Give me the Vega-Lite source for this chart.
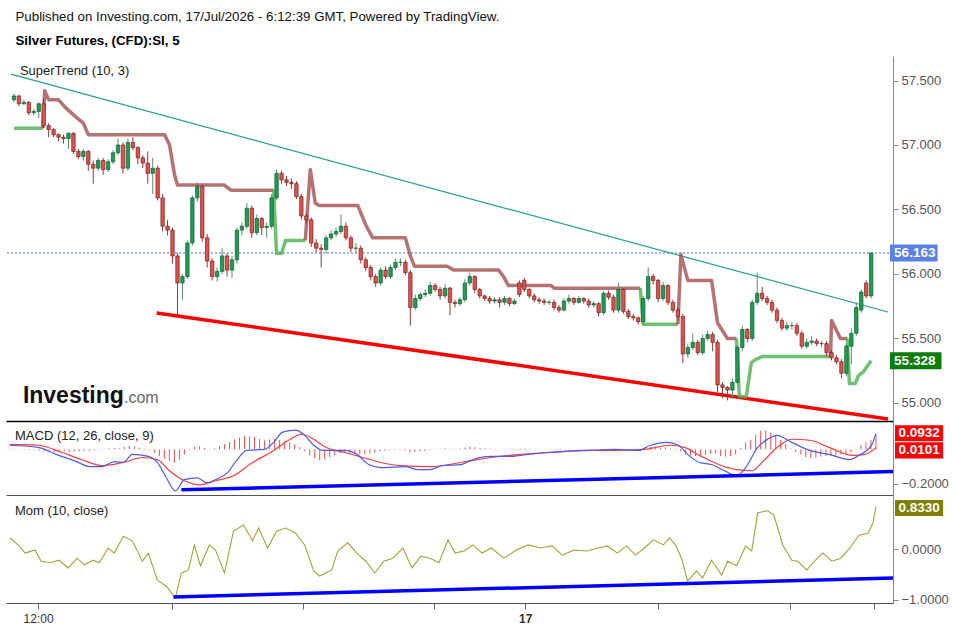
{
  "$schema": "https://vega.github.io/schema/vega-lite/v6.json",
  "padding": {"left": 5, "top": 10, "right": 0, "bottom": 0},
  "background": "white",
  "title": {
    "text": "Published on Investing.com, 17/Jul/2026 - 6:12:39 GMT, Powered by TradingView.",
    "subtitle": "Silver Futures, (CFD):SI, 5",
    "anchor": "start", "dx": 10, "fontSize": 13.3, "fontWeight": "normal", "color": "#111",
    "subtitleFontSize": 13.3, "subtitleFontWeight": "bold", "subtitleColor": "#000",
    "subtitlePadding": 10, "offset": 9
  },
  "config": {
    "view": {"stroke": null},
    "font": "Liberation Sans",
    "title": {"font": "Liberation Sans", "subtitleFont": "Liberation Sans"},
    "axis": {"labelFont": "Liberation Sans", "grid": false}
  },
  "datasets": {
    "candles": [
      {"i":0,"o":57.35,"h":57.40,"l":57.33,"c":57.38},{"i":1,"o":57.38,"h":57.39,"l":57.30,"c":57.32},
      {"i":2,"o":57.32,"h":57.35,"l":57.31,"c":57.33},{"i":3,"o":57.33,"h":57.34,"l":57.23,"c":57.25},
      {"i":4,"o":57.25,"h":57.28,"l":57.23,"c":57.26},{"i":5,"o":57.26,"h":57.33,"l":57.21,"c":57.32},
      {"i":6,"o":57.32,"h":57.36,"l":57.13,"c":57.15},{"i":7,"o":57.15,"h":57.17,"l":57.06,"c":57.12},
      {"i":8,"o":57.12,"h":57.13,"l":57.06,"c":57.08},{"i":9,"o":57.08,"h":57.09,"l":57.03,"c":57.06},
      {"i":10,"o":57.06,"h":57.08,"l":57.01,"c":57.05},{"i":11,"o":57.05,"h":57.10,"l":56.97,"c":57.09},
      {"i":12,"o":57.09,"h":57.10,"l":56.93,"c":56.95},{"i":13,"o":56.95,"h":56.97,"l":56.89,"c":56.91},
      {"i":14,"o":56.91,"h":56.97,"l":56.88,"c":56.95},{"i":15,"o":56.95,"h":56.96,"l":56.80,"c":56.85},
      {"i":16,"o":56.85,"h":56.88,"l":56.70,"c":56.82},{"i":17,"o":56.82,"h":56.90,"l":56.80,"c":56.88},
      {"i":18,"o":56.88,"h":56.90,"l":56.77,"c":56.81},{"i":19,"o":56.81,"h":56.89,"l":56.79,"c":56.87},
      {"i":20,"o":56.87,"h":56.96,"l":56.85,"c":56.94},{"i":21,"o":56.94,"h":57.05,"l":56.92,"c":57.00},
      {"i":22,"o":57.00,"h":57.02,"l":56.78,"c":56.82},{"i":23,"o":56.82,"h":57.05,"l":56.80,"c":57.02},
      {"i":24,"o":57.02,"h":57.06,"l":56.96,"c":56.98},{"i":25,"o":56.98,"h":56.99,"l":56.85,"c":56.90},
      {"i":26,"o":56.90,"h":56.92,"l":56.82,"c":56.86},{"i":27,"o":56.86,"h":56.95,"l":56.70,"c":56.78},
      {"i":28,"o":56.78,"h":56.90,"l":56.62,"c":56.82},{"i":29,"o":56.82,"h":56.84,"l":56.57,"c":56.59},
      {"i":30,"o":56.59,"h":56.62,"l":56.33,"c":56.37},{"i":31,"o":56.37,"h":56.42,"l":56.30,"c":56.34},
      {"i":32,"o":56.34,"h":56.36,"l":56.08,"c":56.14},{"i":33,"o":56.14,"h":56.16,"l":55.68,"c":55.93},
      {"i":34,"o":55.93,"h":56.00,"l":55.80,"c":55.98},{"i":35,"o":55.98,"h":56.26,"l":55.96,"c":56.24},
      {"i":36,"o":56.24,"h":56.61,"l":56.22,"c":56.59},{"i":37,"o":56.59,"h":56.71,"l":56.56,"c":56.68},
      {"i":38,"o":56.68,"h":56.69,"l":56.25,"c":56.28},{"i":39,"o":56.28,"h":56.31,"l":56.05,"c":56.10},
      {"i":40,"o":56.10,"h":56.12,"l":55.95,"c":55.98},{"i":41,"o":55.98,"h":56.05,"l":55.94,"c":56.02},
      {"i":42,"o":56.02,"h":56.20,"l":56.00,"c":56.14},{"i":43,"o":56.14,"h":56.16,"l":55.98,"c":56.03},
      {"i":44,"o":56.03,"h":56.14,"l":55.97,"c":56.11},{"i":45,"o":56.11,"h":56.36,"l":56.08,"c":56.34},
      {"i":46,"o":56.34,"h":56.40,"l":56.30,"c":56.37},{"i":47,"o":56.37,"h":56.55,"l":56.35,"c":56.51},
      {"i":48,"o":56.51,"h":56.53,"l":56.28,"c":56.32},{"i":49,"o":56.32,"h":56.46,"l":56.30,"c":56.43},
      {"i":50,"o":56.43,"h":56.44,"l":56.30,"c":56.36},{"i":51,"o":56.36,"h":56.40,"l":56.28,"c":56.37},
      {"i":52,"o":56.37,"h":56.62,"l":56.35,"c":56.59},{"i":53,"o":56.59,"h":56.81,"l":56.57,"c":56.78},
      {"i":54,"o":56.78,"h":56.80,"l":56.70,"c":56.73},{"i":55,"o":56.73,"h":56.76,"l":56.68,"c":56.71},
      {"i":56,"o":56.71,"h":56.74,"l":56.66,"c":56.70},{"i":57,"o":56.70,"h":56.72,"l":56.58,"c":56.60},
      {"i":58,"o":56.60,"h":56.62,"l":56.42,"c":56.45},{"i":59,"o":56.45,"h":56.47,"l":56.39,"c":56.42},
      {"i":60,"o":56.42,"h":56.44,"l":56.21,"c":56.24},{"i":61,"o":56.24,"h":56.27,"l":56.17,"c":56.20},
      {"i":62,"o":56.20,"h":56.23,"l":56.05,"c":56.19},{"i":63,"o":56.19,"h":56.30,"l":56.16,"c":56.28},
      {"i":64,"o":56.28,"h":56.34,"l":56.26,"c":56.31},{"i":65,"o":56.31,"h":56.36,"l":56.29,"c":56.33},
      {"i":66,"o":56.33,"h":56.46,"l":56.31,"c":56.37},{"i":67,"o":56.37,"h":56.40,"l":56.26,"c":56.28},
      {"i":68,"o":56.28,"h":56.30,"l":56.17,"c":56.20},{"i":69,"o":56.20,"h":56.24,"l":56.16,"c":56.20},
      {"i":70,"o":56.20,"h":56.22,"l":56.08,"c":56.11},{"i":71,"o":56.11,"h":56.13,"l":56.02,"c":56.05},
      {"i":72,"o":56.05,"h":56.07,"l":55.95,"c":55.98},{"i":73,"o":55.98,"h":56.00,"l":55.90,"c":55.93},
      {"i":74,"o":55.93,"h":56.05,"l":55.91,"c":56.03},{"i":75,"o":56.03,"h":56.06,"l":55.96,"c":55.98},
      {"i":76,"o":55.98,"h":56.07,"l":55.96,"c":56.05},{"i":77,"o":56.05,"h":56.12,"l":56.03,"c":56.09},
      {"i":78,"o":56.09,"h":56.12,"l":56.06,"c":56.09},{"i":79,"o":56.09,"h":56.11,"l":55.99,"c":56.01},
      {"i":80,"o":56.01,"h":56.03,"l":55.60,"c":55.74},{"i":81,"o":55.74,"h":55.84,"l":55.72,"c":55.81},
      {"i":82,"o":55.81,"h":55.86,"l":55.79,"c":55.84},{"i":83,"o":55.84,"h":55.88,"l":55.82,"c":55.85},
      {"i":84,"o":55.85,"h":55.94,"l":55.83,"c":55.91},{"i":85,"o":55.91,"h":55.93,"l":55.86,"c":55.88},
      {"i":86,"o":55.88,"h":55.90,"l":55.80,"c":55.83},{"i":87,"o":55.83,"h":55.92,"l":55.81,"c":55.89},
      {"i":88,"o":55.89,"h":55.90,"l":55.68,"c":55.78},{"i":89,"o":55.78,"h":55.80,"l":55.74,"c":55.77},
      {"i":90,"o":55.77,"h":55.82,"l":55.75,"c":55.80},{"i":91,"o":55.80,"h":55.96,"l":55.78,"c":55.93},
      {"i":92,"o":55.93,"h":56.01,"l":55.91,"c":55.98},{"i":93,"o":55.98,"h":55.99,"l":55.85,"c":55.88},
      {"i":94,"o":55.88,"h":55.89,"l":55.81,"c":55.83},{"i":95,"o":55.83,"h":55.84,"l":55.79,"c":55.81},
      {"i":96,"o":55.81,"h":55.83,"l":55.77,"c":55.79},{"i":97,"o":55.79,"h":55.82,"l":55.77,"c":55.80},
      {"i":98,"o":55.80,"h":55.82,"l":55.74,"c":55.78},{"i":99,"o":55.78,"h":55.83,"l":55.76,"c":55.81},
      {"i":100,"o":55.81,"h":55.82,"l":55.75,"c":55.77},{"i":101,"o":55.77,"h":55.81,"l":55.76,"c":55.79},
      {"i":102,"o":55.93,"h":55.95,"l":55.82,"c":55.84},{"i":103,"o":55.95,"h":55.97,"l":55.86,"c":55.88},
      {"i":104,"o":55.88,"h":55.89,"l":55.81,"c":55.83},{"i":105,"o":55.83,"h":55.85,"l":55.78,"c":55.80},
      {"i":106,"o":55.80,"h":55.82,"l":55.77,"c":55.79},{"i":107,"o":55.79,"h":55.81,"l":55.76,"c":55.78},
      {"i":108,"o":55.78,"h":55.80,"l":55.76,"c":55.78},{"i":109,"o":55.78,"h":55.80,"l":55.72,"c":55.74},
      {"i":110,"o":55.74,"h":55.76,"l":55.70,"c":55.72},{"i":111,"o":55.72,"h":55.81,"l":55.71,"c":55.79},
      {"i":112,"o":55.79,"h":55.84,"l":55.77,"c":55.81},{"i":113,"o":55.81,"h":55.82,"l":55.76,"c":55.78},
      {"i":114,"o":55.78,"h":55.83,"l":55.77,"c":55.81},{"i":115,"o":55.81,"h":55.82,"l":55.77,"c":55.79},
      {"i":116,"o":55.79,"h":55.81,"l":55.74,"c":55.76},{"i":117,"o":55.76,"h":55.79,"l":55.74,"c":55.77},
      {"i":118,"o":55.77,"h":55.78,"l":55.67,"c":55.70},{"i":119,"o":55.70,"h":55.87,"l":55.68,"c":55.85},
      {"i":120,"o":55.85,"h":55.87,"l":55.80,"c":55.82},{"i":121,"o":55.82,"h":55.84,"l":55.70,"c":55.72},
      {"i":122,"o":55.72,"h":55.93,"l":55.70,"c":55.88},{"i":123,"o":55.88,"h":55.89,"l":55.69,"c":55.71},
      {"i":124,"o":55.71,"h":55.73,"l":55.65,"c":55.67},{"i":125,"o":55.67,"h":55.69,"l":55.64,"c":55.66},
      {"i":126,"o":55.66,"h":55.67,"l":55.61,"c":55.63},{"i":127,"o":55.63,"h":55.83,"l":55.61,"c":55.81},
      {"i":128,"o":55.81,"h":56.05,"l":55.79,"c":55.98},{"i":129,"o":55.98,"h":56.00,"l":55.92,"c":55.95},
      {"i":130,"o":55.95,"h":55.96,"l":55.78,"c":55.81},{"i":131,"o":55.81,"h":55.94,"l":55.79,"c":55.91},
      {"i":132,"o":55.91,"h":55.92,"l":55.76,"c":55.78},{"i":133,"o":55.78,"h":55.80,"l":55.70,"c":55.72},
      {"i":134,"o":55.72,"h":55.74,"l":55.64,"c":55.67},{"i":135,"o":55.67,"h":55.69,"l":55.31,"c":55.38},
      {"i":136,"o":55.38,"h":55.46,"l":55.35,"c":55.43},{"i":137,"o":55.43,"h":55.54,"l":55.41,"c":55.47},
      {"i":138,"o":55.47,"h":55.49,"l":55.37,"c":55.39},{"i":139,"o":55.39,"h":55.53,"l":55.37,"c":55.50},
      {"i":140,"o":55.50,"h":55.56,"l":55.48,"c":55.53},{"i":141,"o":55.53,"h":55.55,"l":55.40,"c":55.47},
      {"i":142,"o":55.47,"h":55.49,"l":55.08,"c":55.14},{"i":143,"o":55.14,"h":55.16,"l":55.04,"c":55.12},
      {"i":144,"o":55.12,"h":55.13,"l":55.02,"c":55.10},{"i":145,"o":55.10,"h":55.19,"l":55.03,"c":55.16},
      {"i":146,"o":55.16,"h":55.45,"l":55.14,"c":55.43},{"i":147,"o":55.43,"h":55.60,"l":55.40,"c":55.57},
      {"i":148,"o":55.57,"h":55.58,"l":55.47,"c":55.50},{"i":149,"o":55.50,"h":55.80,"l":55.48,"c":55.78},
      {"i":150,"o":55.78,"h":56.01,"l":55.76,"c":55.85},{"i":151,"o":55.85,"h":55.90,"l":55.79,"c":55.81},
      {"i":152,"o":55.81,"h":55.83,"l":55.76,"c":55.78},{"i":153,"o":55.78,"h":55.80,"l":55.70,"c":55.72},
      {"i":154,"o":55.72,"h":55.74,"l":55.62,"c":55.64},{"i":155,"o":55.64,"h":55.66,"l":55.56,"c":55.58},
      {"i":156,"o":55.58,"h":55.63,"l":55.56,"c":55.60},{"i":157,"o":55.60,"h":55.63,"l":55.57,"c":55.60},
      {"i":158,"o":55.60,"h":55.62,"l":55.52,"c":55.54},{"i":159,"o":55.54,"h":55.56,"l":55.42,"c":55.44},
      {"i":160,"o":55.44,"h":55.50,"l":55.42,"c":55.47},{"i":161,"o":55.47,"h":55.52,"l":55.45,"c":55.48},
      {"i":162,"o":55.48,"h":55.50,"l":55.44,"c":55.46},{"i":163,"o":55.46,"h":55.48,"l":55.43,"c":55.46},
      {"i":164,"o":55.46,"h":55.48,"l":55.36,"c":55.39},{"i":165,"o":55.39,"h":55.41,"l":55.33,"c":55.35},
      {"i":166,"o":55.35,"h":55.37,"l":55.30,"c":55.32},{"i":167,"o":55.32,"h":55.34,"l":55.19,"c":55.23},
      {"i":168,"o":55.23,"h":55.46,"l":55.21,"c":55.44},{"i":169,"o":55.44,"h":55.58,"l":55.30,"c":55.54},
      {"i":170,"o":55.54,"h":55.78,"l":55.52,"c":55.74},{"i":171,"o":55.72,"h":55.88,"l":55.70,"c":55.86},
      {"i":172,"o":55.93,"h":55.95,"l":55.81,"c":55.83},{"i":173,"o":55.83,"h":56.165,"l":55.81,"c":56.163}
    ],
    "supertrend": [
      {"i":0,"v":57.13,"seg":1,"dir":"up"},{"i":5.8,"v":57.13,"seg":1,"dir":"up"},
      {"i":5.8,"v":57.13,"seg":2,"dir":"down"},{"i":6.2,"v":57.42,"seg":2,"dir":"down"},{"i":7,"v":57.35,"seg":2,"dir":"down"},
      {"i":9,"v":57.35,"seg":2,"dir":"down"},{"i":10.4,"v":57.29,"seg":2,"dir":"down"},{"i":12.4,"v":57.22,"seg":2,"dir":"down"},
      {"i":14,"v":57.17,"seg":2,"dir":"down"},{"i":15,"v":57.08,"seg":2,"dir":"down"},{"i":30.4,"v":57.08,"seg":2,"dir":"down"},
      {"i":31.4,"v":57.0,"seg":2,"dir":"down"},{"i":32.4,"v":56.77,"seg":2,"dir":"down"},{"i":33,"v":56.69,"seg":2,"dir":"down"},
      {"i":42.4,"v":56.69,"seg":2,"dir":"down"},{"i":43.8,"v":56.65,"seg":2,"dir":"down"},{"i":52.4,"v":56.65,"seg":2,"dir":"down"},
      {"i":52.4,"v":56.65,"seg":3,"dir":"up"},{"i":53,"v":56.16,"seg":3,"dir":"up"},{"i":54,"v":56.16,"seg":3,"dir":"up"},
      {"i":54.8,"v":56.26,"seg":3,"dir":"up"},{"i":58.8,"v":56.26,"seg":3,"dir":"up"},
      {"i":58.8,"v":56.26,"seg":4,"dir":"down"},{"i":59.8,"v":56.81,"seg":4,"dir":"down"},{"i":60.8,"v":56.55,"seg":4,"dir":"down"},
      {"i":61.6,"v":56.53,"seg":4,"dir":"down"},{"i":69.4,"v":56.53,"seg":4,"dir":"down"},{"i":71,"v":56.38,"seg":4,"dir":"down"},
      {"i":72.4,"v":56.28,"seg":4,"dir":"down"},{"i":79,"v":56.28,"seg":4,"dir":"down"},{"i":80,"v":56.14,"seg":4,"dir":"down"},
      {"i":80.8,"v":56.06,"seg":4,"dir":"down"},{"i":87.4,"v":56.06,"seg":4,"dir":"down"},{"i":88.8,"v":56.03,"seg":4,"dir":"down"},
      {"i":97.8,"v":56.03,"seg":4,"dir":"down"},{"i":98.8,"v":55.98,"seg":4,"dir":"down"},{"i":99.8,"v":55.91,"seg":4,"dir":"down"},
      {"i":108.4,"v":55.91,"seg":4,"dir":"down"},{"i":109,"v":55.89,"seg":4,"dir":"down"},{"i":126.4,"v":55.89,"seg":4,"dir":"down"},
      {"i":126.4,"v":55.89,"seg":5,"dir":"up"},{"i":127,"v":55.61,"seg":5,"dir":"up"},{"i":134,"v":55.61,"seg":5,"dir":"up"},
      {"i":134,"v":55.61,"seg":6,"dir":"down"},{"i":134.6,"v":56.15,"seg":6,"dir":"down"},{"i":136,"v":55.95,"seg":6,"dir":"down"},
      {"i":140.8,"v":55.95,"seg":6,"dir":"down"},{"i":142,"v":55.62,"seg":6,"dir":"down"},{"i":144,"v":55.5,"seg":6,"dir":"down"},
      {"i":145.8,"v":55.5,"seg":6,"dir":"down"},
      {"i":145.8,"v":55.5,"seg":7,"dir":"up"},{"i":146.4,"v":55.05,"seg":7,"dir":"up"},{"i":147.8,"v":55.05,"seg":7,"dir":"up"},
      {"i":148.8,"v":55.31,"seg":7,"dir":"up"},{"i":149.4,"v":55.33,"seg":7,"dir":"up"},{"i":151,"v":55.36,"seg":7,"dir":"up"},
      {"i":164.8,"v":55.36,"seg":7,"dir":"up"},
      {"i":164.8,"v":55.36,"seg":8,"dir":"down"},{"i":165,"v":55.64,"seg":8,"dir":"down"},{"i":166.8,"v":55.5,"seg":8,"dir":"down"},
      {"i":168.2,"v":55.5,"seg":8,"dir":"down"},
      {"i":168.2,"v":55.5,"seg":9,"dir":"up"},{"i":168.6,"v":55.15,"seg":9,"dir":"up"},{"i":169.8,"v":55.15,"seg":9,"dir":"up"},
      {"i":170.4,"v":55.21,"seg":9,"dir":"up"},{"i":171.4,"v":55.24,"seg":9,"dir":"up"},{"i":173,"v":55.328,"seg":9,"dir":"up"}
    ],
    "macdLine": [
      {"i":0.2,"v":0.024},{"i":5.8,"v":0.012},{"i":9.4,"v":-0.029},{"i":13,"v":-0.065},{"i":16.2,"v":-0.1},{"i":18.6,"v":-0.1},
      {"i":21,"v":-0.071},{"i":22.8,"v":-0.076},{"i":24.6,"v":-0.029},{"i":27.8,"v":-0.041},{"i":29.6,"v":-0.076},{"i":31.4,"v":-0.165},
      {"i":33.2,"v":-0.241},{"i":35,"v":-0.176},{"i":37.6,"v":-0.165},{"i":39.4,"v":-0.194},{"i":41.2,"v":-0.176},{"i":43.6,"v":-0.135},
      {"i":45.4,"v":-0.065},{"i":47.4,"v":-0.006},{"i":51,"v":0.0},{"i":52.8,"v":0.041},{"i":54.6,"v":0.1},{"i":57.2,"v":0.112},
      {"i":59,"v":0.082},{"i":60.8,"v":0.024},{"i":62.6,"v":-0.006},{"i":67,"v":-0.006},{"i":69.4,"v":-0.029},{"i":71.8,"v":-0.088},
      {"i":74.2,"v":-0.106},{"i":79.2,"v":-0.1},{"i":81.6,"v":-0.118},{"i":84,"v":-0.118},{"i":86.4,"v":-0.094},{"i":90.2,"v":-0.088},
      {"i":92.6,"v":-0.059},{"i":96.2,"v":-0.041},{"i":100,"v":-0.041},{"i":103.6,"v":-0.029},{"i":107.2,"v":-0.018},{"i":111,"v":-0.012},
      {"i":115.8,"v":-0.006},{"i":120.8,"v":0.0},{"i":125.6,"v":-0.006},{"i":128,"v":0.024},{"i":131.2,"v":0.041},{"i":133.6,"v":0.024},
      {"i":135.4,"v":-0.029},{"i":137.8,"v":-0.076},{"i":140.2,"v":-0.088},{"i":142.8,"v":-0.124},{"i":145.2,"v":-0.153},{"i":147,"v":-0.106},
      {"i":149.4,"v":0.012},{"i":151.4,"v":0.059},{"i":153.2,"v":0.082},{"i":156.2,"v":0.041},{"i":159.8,"v":-0.006},{"i":163.6,"v":-0.029},
      {"i":167.8,"v":-0.059},{"i":169.6,"v":-0.035},{"i":172.2,"v":0.029},{"i":173,"v":0.0932}
    ],
    "signalLine": [
      {"i":0.2,"v":0.029},{"i":5.8,"v":0.024},{"i":10.6,"v":-0.018},{"i":14.4,"v":-0.059},{"i":18.6,"v":-0.094},{"i":22.8,"v":-0.076},
      {"i":26.6,"v":-0.047},{"i":29.6,"v":-0.059},{"i":32,"v":-0.124},{"i":35,"v":-0.182},{"i":38.2,"v":-0.206},{"i":41.2,"v":-0.182},
      {"i":44.8,"v":-0.153},{"i":48.6,"v":-0.076},{"i":52.2,"v":-0.018},{"i":55.8,"v":0.053},{"i":58.4,"v":0.088},{"i":60.8,"v":0.059},
      {"i":63.2,"v":0.012},{"i":67,"v":-0.018},{"i":70.6,"v":-0.047},{"i":74.2,"v":-0.076},{"i":78,"v":-0.094},{"i":84,"v":-0.1},
      {"i":90.2,"v":-0.076},{"i":96.2,"v":-0.047},{"i":102.4,"v":-0.029},{"i":108.4,"v":-0.018},{"i":114.6,"v":-0.006},{"i":120.8,"v":-0.006},
      {"i":126.8,"v":0.0},{"i":131.8,"v":0.024},{"i":134.8,"v":0.012},{"i":137.8,"v":-0.035},{"i":141.6,"v":-0.088},{"i":145.2,"v":-0.118},
      {"i":148.2,"v":-0.124},{"i":150.6,"v":-0.065},{"i":153.8,"v":0.024},{"i":156.2,"v":0.059},{"i":159.8,"v":0.053},{"i":163.6,"v":0.012},
      {"i":168.4,"v":-0.035},{"i":170.8,"v":-0.029},{"i":173,"v":0.0101}
    ],
    "hist": [
      {"i":0,"v":0.003},{"i":1,"v":0.004},{"i":2,"v":0.002},{"i":3,"v":-0.002},{"i":4,"v":-0.004},{"i":5,"v":-0.003},{"i":6,"v":-0.008},
      {"i":7,"v":-0.012},{"i":8,"v":-0.014},{"i":9,"v":-0.016},{"i":10,"v":-0.014},{"i":11,"v":-0.012},{"i":12,"v":-0.015},{"i":13,"v":-0.014},
      {"i":14,"v":-0.012},{"i":15,"v":-0.01},{"i":16,"v":-0.008},{"i":17,"v":-0.005},{"i":18,"v":-0.003},{"i":19,"v":0.002},{"i":20,"v":0.006},
      {"i":21,"v":0.01},{"i":22,"v":0.006},{"i":23,"v":0.014},{"i":24,"v":0.02},{"i":25,"v":0.016},{"i":26,"v":0.01},{"i":27,"v":0.004},
      {"i":28,"v":-0.006},{"i":29,"v":-0.02},{"i":30,"v":-0.04},{"i":31,"v":-0.055},{"i":32,"v":-0.068},{"i":33,"v":-0.078},{"i":34,"v":-0.06},
      {"i":35,"v":-0.03},{"i":36,"v":-0.005},{"i":37,"v":0.015},{"i":38,"v":0.018},{"i":39,"v":0.008},{"i":40,"v":0.002},{"i":41,"v":0.006},
      {"i":42,"v":0.018},{"i":43,"v":0.03},{"i":44,"v":0.042},{"i":45,"v":0.058},{"i":46,"v":0.068},{"i":47,"v":0.08},{"i":48,"v":0.075},
      {"i":49,"v":0.072},{"i":50,"v":0.06},{"i":51,"v":0.052},{"i":52,"v":0.058},{"i":53,"v":0.062},{"i":54,"v":0.055},{"i":55,"v":0.048},
      {"i":56,"v":0.04},{"i":57,"v":0.03},{"i":58,"v":0.012},{"i":59,"v":-0.01},{"i":60,"v":-0.035},{"i":61,"v":-0.05},{"i":62,"v":-0.062},
      {"i":63,"v":-0.058},{"i":64,"v":-0.045},{"i":65,"v":-0.034},{"i":66,"v":-0.022},{"i":67,"v":-0.018},{"i":68,"v":-0.022},{"i":69,"v":-0.025},
      {"i":70,"v":-0.03},{"i":71,"v":-0.028},{"i":72,"v":-0.024},{"i":73,"v":-0.02},{"i":74,"v":-0.012},{"i":75,"v":-0.008},{"i":76,"v":-0.006},
      {"i":77,"v":-0.004},{"i":78,"v":-0.003},{"i":79,"v":-0.006},{"i":80,"v":-0.018},{"i":81,"v":-0.015},{"i":82,"v":-0.012},{"i":83,"v":-0.01},
      {"i":84,"v":-0.006},{"i":85,"v":0.002},{"i":86,"v":0.004},{"i":87,"v":0.006},{"i":88,"v":0.004},{"i":89,"v":0.003},{"i":90,"v":0.006},
      {"i":91,"v":0.012},{"i":92,"v":0.016},{"i":93,"v":0.012},{"i":94,"v":0.008},{"i":95,"v":0.006},{"i":96,"v":0.004},{"i":97,"v":0.003},
      {"i":98,"v":0.002},{"i":99,"v":0.002},{"i":100,"v":0.001},{"i":101,"v":0.002},{"i":102,"v":0.004},{"i":103,"v":0.006},{"i":104,"v":0.004},
      {"i":105,"v":0.002},{"i":106,"v":0.001},{"i":107,"v":0.0},{"i":108,"v":-0.002},{"i":109,"v":-0.004},{"i":110,"v":-0.005},{"i":111,"v":-0.002},
      {"i":112,"v":0.001},{"i":113,"v":0.0},{"i":114,"v":0.002},{"i":115,"v":0.001},{"i":116,"v":-0.001},{"i":117,"v":-0.002},{"i":118,"v":-0.005},
      {"i":119,"v":0.002},{"i":120,"v":0.003},{"i":121,"v":-0.002},{"i":122,"v":0.004},{"i":123,"v":-0.002},{"i":124,"v":-0.006},{"i":125,"v":-0.008},
      {"i":126,"v":-0.01},{"i":127,"v":0.004},{"i":128,"v":0.014},{"i":129,"v":0.016},{"i":130,"v":0.01},{"i":131,"v":0.012},{"i":132,"v":0.004},
      {"i":133,"v":-0.004},{"i":134,"v":-0.01},{"i":135,"v":-0.03},{"i":136,"v":-0.035},{"i":137,"v":-0.038},{"i":138,"v":-0.04},{"i":139,"v":-0.032},
      {"i":140,"v":-0.025},{"i":141,"v":-0.024},{"i":142,"v":-0.038},{"i":143,"v":-0.042},{"i":144,"v":-0.04},{"i":145,"v":-0.03},{"i":146,"v":0.01},
      {"i":147,"v":0.04},{"i":148,"v":0.055},{"i":149,"v":0.085},{"i":150,"v":0.108},{"i":151,"v":0.11},{"i":152,"v":0.098},{"i":153,"v":0.08},
      {"i":154,"v":0.055},{"i":155,"v":0.03},{"i":156,"v":0.005},{"i":157,"v":-0.015},{"i":158,"v":-0.03},{"i":159,"v":-0.045},{"i":160,"v":-0.052},
      {"i":161,"v":-0.048},{"i":162,"v":-0.042},{"i":163,"v":-0.04},{"i":164,"v":-0.038},{"i":165,"v":-0.035},{"i":166,"v":-0.03},{"i":167,"v":-0.03},
      {"i":168,"v":-0.015},{"i":169,"v":0.002},{"i":170,"v":0.025},{"i":171,"v":0.04},{"i":172,"v":0.055},{"i":173,"v":0.083}
    ],
    "mom": [
      {"i":0.2,"v":0.22},{"i":2,"v":0.06},{"i":3.2,"v":-0.08},{"i":5.2,"v":-0.02},{"i":6.4,"v":-0.24},{"i":8.2,"v":-0.27},{"i":10,"v":-0.22},
      {"i":11.8,"v":-0.37},{"i":13.6,"v":-0.18},{"i":15,"v":-0.31},{"i":16.8,"v":-0.22},{"i":18,"v":-0.27},{"i":19.8,"v":0.02},{"i":21,"v":-0.08},
      {"i":22.8,"v":0.25},{"i":24.6,"v":0.16},{"i":26.6,"v":-0.24},{"i":27.8,"v":-0.08},{"i":29.6,"v":-0.61},{"i":31.4,"v":-0.73},{"i":33.2,"v":-0.96},
      {"i":34.4,"v":-0.47},{"i":35.8,"v":-0.41},{"i":37,"v":0.08},{"i":38.2,"v":-0.33},{"i":40,"v":0.08},{"i":41.2,"v":-0.02},{"i":43,"v":-0.47},
      {"i":44.8,"v":0.35},{"i":46.8,"v":0.47},{"i":48.6,"v":0.16},{"i":49.8,"v":0.41},{"i":51.6,"v":0.02},{"i":53.4,"v":0.35},{"i":55.2,"v":0.41},
      {"i":57.2,"v":0.31},{"i":59,"v":0.08},{"i":60.8,"v":-0.43},{"i":62,"v":-0.53},{"i":64.4,"v":-0.41},{"i":65.6,"v":-0.04},{"i":67.6,"v":0.12},
      {"i":69.4,"v":-0.08},{"i":71.2,"v":-0.24},{"i":73,"v":-0.47},{"i":74.8,"v":-0.24},{"i":76.6,"v":-0.18},{"i":78.6,"v":0.02},{"i":80.4,"v":-0.37},
      {"i":82.2,"v":-0.14},{"i":84,"v":-0.18},{"i":85.8,"v":-0.27},{"i":87.6,"v":0.18},{"i":89,"v":-0.08},{"i":90.8,"v":-0.04},{"i":92.6,"v":0.08},
      {"i":94.4,"v":-0.08},{"i":96.2,"v":0.02},{"i":98.8,"v":-0.18},{"i":101.2,"v":-0.02},{"i":103.6,"v":0.08},{"i":106,"v":0.02},{"i":108.4,"v":0.06},
      {"i":110.4,"v":-0.12},{"i":112.8,"v":-0.02},{"i":115.2,"v":-0.04},{"i":117.6,"v":0.02},{"i":119.4,"v":0.06},{"i":121.4,"v":-0.08},{"i":123.2,"v":0.06},
      {"i":125,"v":-0.12},{"i":126.8,"v":0.02},{"i":128.6,"v":0.18},{"i":130.6,"v":0.08},{"i":131.8,"v":0.22},{"i":133,"v":0.08},{"i":134.2,"v":-0.18},
      {"i":135.4,"v":-0.63},{"i":137.2,"v":-0.43},{"i":138.4,"v":-0.57},{"i":140.2,"v":-0.22},{"i":142.2,"v":-0.51},{"i":143.4,"v":-0.24},{"i":145.2,"v":-0.33},
      {"i":147,"v":0.06},{"i":148.2,"v":-0.04},{"i":149.4,"v":0.71},{"i":151.4,"v":0.75},{"i":152.6,"v":0.67},{"i":154.4,"v":0.08},{"i":156.2,"v":-0.22},
      {"i":157.4,"v":-0.24},{"i":159.2,"v":-0.41},{"i":160.4,"v":-0.27},{"i":162.4,"v":-0.08},{"i":164.2,"v":-0.24},{"i":166,"v":-0.18},{"i":167.8,"v":0.02},
      {"i":169.6,"v":0.27},{"i":171.4,"v":0.31},{"i":172.4,"v":0.51},{"i":173,"v":0.833}
    ]
  },
  "vconcat": [
    {
      "width": 887,
      "height": 365,
      "layer": [
        {
          "data": {"values": [{"i": -0.6, "v": 57.549}, {"i": 176.4, "v": 55.705}]},
          "mark": {"type": "line", "color": "#26a08f", "strokeWidth": 1.2},
          "encoding": {
            "x": {"field": "i", "type": "quantitative", "scale": {"domain": [-0.6, 176.4], "nice": false, "zero": false},
              "axis": {"orient": "bottom", "labels": false, "ticks": false, "domainColor": "#000", "domainWidth": 1.5, "grid": false}, "title": null},
            "y": {"field": "v", "type": "quantitative", "scale": {"domain": [54.86, 57.69], "nice": false, "zero": false},
              "axis": {"orient": "right", "values": [55, 55.5, 56, 56.5, 57, 57.5], "format": ".3f", "labelFontSize": 13, "labelColor": "#555",
                "tickSize": 5, "tickColor": "#888", "domainColor": "#888", "labelPadding": 3, "grid": false}, "title": null}
          }
        },
        {
          "data": {"values": [{"i": 28.8, "v": 55.698}, {"i": 176.4, "v": 54.876}]},
          "mark": {"type": "line", "color": "#ff0000", "strokeWidth": 3.5},
          "encoding": {
            "x": {"field": "i", "type": "quantitative", "title": null},
            "y": {"field": "v", "type": "quantitative", "title": null}
          }
        },
        {
          "data": {"values": [{"v": 56.163}]},
          "mark": {"type": "rule", "color": "#3d6ee8", "strokeDash": [2, 2], "strokeWidth": 1},
          "encoding": {"y": {"field": "v", "type": "quantitative", "title": null}}
        },
        {
          "data": {"name": "supertrend"},
          "mark": {"type": "line", "strokeWidth": 3.5, "opacity": 0.8, "strokeJoin": "round"},
          "encoding": {
            "x": {"field": "i", "type": "quantitative", "title": null},
            "y": {"field": "v", "type": "quantitative", "title": null},
            "detail": {"field": "seg", "type": "nominal"},
            "color": {"field": "dir", "type": "nominal", "scale": {"domain": ["down", "up"], "range": ["#a34f4f", "#4caf50"]}, "legend": null}
          }
        },
        {
          "data": {"name": "candles"},
          "mark": {"type": "rule", "strokeWidth": 1},
          "encoding": {
            "x": {"field": "i", "type": "quantitative", "title": null},
            "y": {"field": "l", "type": "quantitative", "title": null},
            "y2": {"field": "h"},
            "stroke": {"condition": {"test": "datum.c >= datum.o", "value": "#5d8c73"}, "value": "#8f3a3a"}
          }
        },
        {
          "data": {"name": "candles"},
          "mark": {"type": "bar", "size": 3.4, "strokeWidth": 0.7},
          "encoding": {
            "x": {"field": "i", "type": "quantitative", "title": null},
            "y": {"field": "o", "type": "quantitative", "title": null},
            "y2": {"field": "c"},
            "fill": {"condition": {"test": "datum.c >= datum.o", "value": "#1f9d55"}, "value": "#e0534d"},
            "stroke": {"condition": {"test": "datum.c >= datum.o", "value": "#0b5c30"}, "value": "#7a1c1c"}
          }
        },
        {
          "data": {"values": [{"i": 1.2, "v": 57.574, "t": "SuperTrend (10, 3)"}]},
          "mark": {"type": "text", "align": "left", "baseline": "middle", "fontSize": 13, "color": "#222"},
          "encoding": {
            "x": {"field": "i", "type": "quantitative", "title": null},
            "y": {"field": "v", "type": "quantitative", "title": null},
            "text": {"field": "t"}
          }
        },
        {
          "data": {"values": [{"i": 1.8, "v": 55.0, "t": "Investing"}]},
          "mark": {"type": "text", "align": "left", "baseline": "alphabetic", "fontSize": 23, "fontWeight": "bold", "color": "#111"},
          "encoding": {
            "x": {"field": "i", "type": "quantitative", "title": null},
            "y": {"field": "v", "type": "quantitative", "title": null},
            "text": {"field": "t"}
          }
        },
        {
          "data": {"values": [{"i": 22.2, "v": 55.0, "t": ".com"}]},
          "mark": {"type": "text", "align": "left", "baseline": "alphabetic", "fontSize": 16, "color": "#666"},
          "encoding": {
            "x": {"field": "i", "type": "quantitative", "title": null},
            "y": {"field": "v", "type": "quantitative", "title": null},
            "text": {"field": "t"}
          }
        },
        {
          "data": {"values": [{"lo": 56.097, "hi": 56.229}]},
          "mark": {"type": "rect", "color": "#5a7fe6"},
          "encoding": {
            "x": {"datum": 176.8, "type": "quantitative"},
            "x2": {"datum": 186.4},
            "y": {"field": "lo", "type": "quantitative", "title": null},
            "y2": {"field": "hi"}
          }
        },
        {
          "data": {"values": [{"lo": 55.262, "hi": 55.394}]},
          "mark": {"type": "rect", "color": "#0a7d0a"},
          "encoding": {
            "x": {"datum": 176.8, "type": "quantitative"},
            "x2": {"datum": 187.2},
            "y": {"field": "lo", "type": "quantitative", "title": null},
            "y2": {"field": "hi"}
          }
        },
        {
          "data": {"values": [{"v": 56.163, "t": "56.163"}, {"v": 55.328, "t": "55.328"}]},
          "mark": {"type": "text", "align": "center", "baseline": "middle", "fontSize": 13.5, "fontWeight": "bold", "color": "white"},
          "encoding": {
            "x": {"datum": 181.8, "type": "quantitative"},
            "y": {"field": "v", "type": "quantitative", "title": null},
            "text": {"field": "t"}
          }
        }
      ]
    },
    {
      "width": 887,
      "height": 74,
      "layer": [
        {
          "data": {"name": "hist"},
          "mark": {"type": "rule", "color": "#f05050", "strokeWidth": 1},
          "encoding": {
            "x": {"field": "i", "type": "quantitative", "scale": {"domain": [-0.6, 176.4], "nice": false, "zero": false},
              "axis": {"orient": "bottom", "labels": false, "ticks": false, "domainColor": "#555", "domainWidth": 1, "grid": false}, "title": null},
            "y": {"field": "v", "type": "quantitative", "scale": {"domain": [-0.265, 0.165], "nice": false, "zero": false},
              "axis": {"orient": "right", "values": [-0.2], "format": ".4f", "labelFontSize": 13, "labelColor": "#555",
                "tickSize": 5, "tickColor": "#888", "domainColor": "#888", "labelPadding": 3, "grid": false}, "title": null},
            "y2": {"datum": 0}
          }
        },
        {
          "data": {"name": "signalLine"},
          "mark": {"type": "line", "color": "#ff3b3b", "strokeWidth": 1.2, "interpolate": "monotone"},
          "encoding": {
            "x": {"field": "i", "type": "quantitative", "title": null},
            "y": {"field": "v", "type": "quantitative", "title": null}
          }
        },
        {
          "data": {"name": "macdLine"},
          "mark": {"type": "line", "color": "#4a5cf0", "strokeWidth": 1.2, "interpolate": "monotone"},
          "encoding": {
            "x": {"field": "i", "type": "quantitative", "title": null},
            "y": {"field": "v", "type": "quantitative", "title": null}
          }
        },
        {
          "data": {"values": [{"i": 34.4, "v": -0.235}, {"i": 176.4, "v": -0.129}]},
          "mark": {"type": "line", "color": "#0000ff", "strokeWidth": 3.5},
          "encoding": {
            "x": {"field": "i", "type": "quantitative", "title": null},
            "y": {"field": "v", "type": "quantitative", "title": null}
          }
        },
        {
          "data": {"values": [{"i": 1.2, "v": 0.078, "t": "MACD (12, 26, close, 9)"}]},
          "mark": {"type": "text", "align": "left", "baseline": "middle", "fontSize": 13, "color": "#222"},
          "encoding": {
            "x": {"field": "i", "type": "quantitative", "title": null},
            "y": {"field": "v", "type": "quantitative", "title": null},
            "text": {"field": "t"}
          }
        },
        {
          "data": {"values": [{"lo": 0.047, "hi": 0.141}, {"lo": -0.053, "hi": 0.041}]},
          "mark": {"type": "rect", "color": "#ff0000"},
          "encoding": {
            "x": {"datum": 176.8, "type": "quantitative"},
            "x2": {"datum": 186.4},
            "y": {"field": "lo", "type": "quantitative", "title": null},
            "y2": {"field": "hi"}
          }
        },
        {
          "data": {"values": [{"v": 0.094, "t": "0.0932"}, {"v": -0.006, "t": "0.0101"}]},
          "mark": {"type": "text", "align": "center", "baseline": "middle", "fontSize": 13.5, "fontWeight": "bold", "color": "white"},
          "encoding": {
            "x": {"datum": 181.6, "type": "quantitative"},
            "y": {"field": "v", "type": "quantitative", "title": null},
            "text": {"field": "t"}
          }
        }
      ]
    },
    {
      "width": 887,
      "height": 108,
      "layer": [
        {
          "data": {"name": "mom"},
          "mark": {"type": "line", "color": "#a3a33a", "strokeWidth": 1.1},
          "encoding": {
            "x": {"field": "i", "type": "quantitative", "scale": {"domain": [-0.6, 176.4], "nice": false, "zero": false},
              "axis": {"orient": "bottom", "values": [5.8, 32.6, 58.6, 84.8, 103, 129.6, 155.8, 172.6],
                "labelExpr": "datum.value < 10 ? '12:00' : (datum.value > 100 && datum.value < 106 ? '17' : '')",
                "labelFontSize": 12, "labelColor": "#333", "labelPadding": 4, "tickSize": 6, "tickColor": "#666",
                "labelFontWeight": {"condition": {"test": "datum.value > 100 && datum.value < 106", "value": "bold"}, "value": "normal"},
                "domainColor": "#555", "domainWidth": 1, "grid": false}, "title": null},
            "y": {"field": "v", "type": "quantitative", "scale": {"domain": [-1.059, 1.059], "nice": false, "zero": false},
              "axis": {"orient": "right", "values": [-1, 0], "format": ".4f", "labelFontSize": 13, "labelColor": "#555",
                "tickSize": 5, "tickColor": "#888", "domainColor": "#888", "labelPadding": 3, "grid": false}, "title": null}
          }
        },
        {
          "data": {"values": [{"i": 32.8, "v": -0.94}, {"i": 176.4, "v": -0.57}]},
          "mark": {"type": "line", "color": "#0000ff", "strokeWidth": 3.5},
          "encoding": {
            "x": {"field": "i", "type": "quantitative", "title": null},
            "y": {"field": "v", "type": "quantitative", "title": null}
          }
        },
        {
          "data": {"values": [{"i": 1.2, "v": 0.745, "t": "Mom (10, close)"}]},
          "mark": {"type": "text", "align": "left", "baseline": "middle", "fontSize": 13, "color": "#222"},
          "encoding": {
            "x": {"field": "i", "type": "quantitative", "title": null},
            "y": {"field": "v", "type": "quantitative", "title": null},
            "text": {"field": "t"}
          }
        },
        {
          "data": {"values": [{"lo": 0.647, "hi": 0.961}]},
          "mark": {"type": "rect", "color": "#808000"},
          "encoding": {
            "x": {"datum": 176.8, "type": "quantitative"},
            "x2": {"datum": 186.4},
            "y": {"field": "lo", "type": "quantitative", "title": null},
            "y2": {"field": "hi"}
          }
        },
        {
          "data": {"values": [{"v": 0.804, "t": "0.8330"}]},
          "mark": {"type": "text", "align": "center", "baseline": "middle", "fontSize": 13.5, "fontWeight": "bold", "color": "white"},
          "encoding": {
            "x": {"datum": 181.6, "type": "quantitative"},
            "y": {"field": "v", "type": "quantitative", "title": null},
            "text": {"field": "t"}
          }
        }
      ]
    }
  ],
  "spacing": 0,
  "bounds": "flush"
}
